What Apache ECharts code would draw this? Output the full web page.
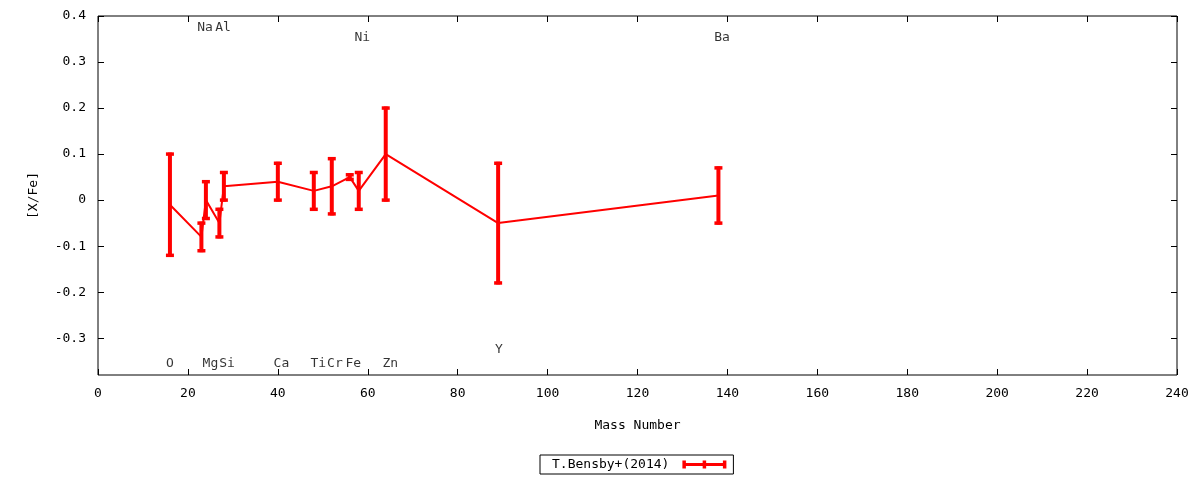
<!DOCTYPE html>
<html>
<head>
<meta charset="utf-8">
<script src="https://cdn.jsdelivr.net/npm/echarts@6/dist/echarts.min.js"></script>
<style>
html,body{margin:0;padding:0;background:#fff;}
#chart{width:1200px;height:480px;}
</style>
</head>
<body>
<div id="chart"></div>
<script>
// Data
const elements   = ['O','Na','Mg','Al','Si','Ca','Ti','Cr','Fe','Ni','Zn','Y','Ba'];
const massNumber = [16, 23, 24, 27, 28, 40, 48, 52, 56, 58, 64, 89, 138];
const abundance  = [-0.01,-0.08,0.00,-0.05,0.03,0.04,0.02,0.03,0.05,0.02,0.10,-0.05,0.01];
const errors     = [0.11, 0.03, 0.04, 0.03, 0.03, 0.04, 0.04, 0.06, 0.005, 0.04, 0.10, 0.13, 0.06];
// element name label anchors (data coordinates)
const labelX = [16, 23.8, 25, 27.8, 28.7, 40.8, 49, 52.7, 56.8, 58.8, 65, 89.2, 138.8];
const labelY = [-0.355, 0.375, -0.355, 0.375, -0.355, -0.355, -0.355, -0.355, -0.355, 0.352, -0.355, -0.325, 0.352];
const xTicks = [0,20,40,60,80,100,120,140,160,180,200,220,240];
const yTicks = [-0.3,-0.2,-0.1,0,0.1,0.2,0.3,0.4];
const seriesName = 'T.Bensby+(2014)';

const FONT = 'DejaVu Sans Mono';
const RED = '#ff0000';

const lineData = massNumber.map((m, i) => [m, abundance[i]]);
const errData = massNumber.map((m, i) => [m, abundance[i] - errors[i], abundance[i] + errors[i]]);
const labelData = elements.map((e, i) => ({ name: e, value: [labelX[i], labelY[i]] }));

const chart = echarts.init(document.getElementById('chart'), null, { renderer: 'canvas' });

const axisCommonX = {
  type: 'value', min: 0, max: 240, interval: 20,
  splitLine: { show: false },
  axisLine: { show: false, onZero: false },
  axisTick: { show: true, inside: true, length: 6, lineStyle: { color: '#000', width: 1 } }
};
const axisCommonY = {
  type: 'value', min: -0.38, max: 0.4,
  splitLine: { show: false },
  axisLine: { show: false, onZero: false },
  axisTick: { show: true, inside: true, length: 6, customValues: yTicks, lineStyle: { color: '#000', width: 1 } }
};

chart.setOption({
  animation: false,
  backgroundColor: '#fff',
  textStyle: { fontFamily: FONT },
  grid: { left: 98, right: 23, top: 16, bottom: 105, show: true, borderColor: '#000', borderWidth: 1, backgroundColor: 'transparent' },
  legend: {
    left: 540, top: 455,
    data: [seriesName],
    align: 'right',
    borderColor: '#000', borderWidth: 1,
    padding: [3, 7, 3, 12],
    itemWidth: 44, itemHeight: 8,
    icon: 'path://M0,2.5h44v3h-44z M0,0h3.5v8h-3.5z M20.25,0h3.5v8h-3.5z M40.5,0h3.5v8h-3.5z',
    itemStyle: { color: RED },
    textStyle: { fontFamily: FONT, fontSize: 13, color: '#000', padding: [2, 8, 0, 0] }
  },
  xAxis: [
    Object.assign({}, axisCommonX, {
      position: 'bottom',
      name: 'Mass Number', nameLocation: 'middle', nameGap: 44,
      nameTextStyle: { fontFamily: FONT, fontSize: 13, color: '#000' },
      axisLabel: { show: true, margin: 12, fontFamily: FONT, fontSize: 13, color: '#000' }
    }),
    Object.assign({}, axisCommonX, { position: 'top', axisLabel: { show: false } })
  ],
  yAxis: [
    Object.assign({}, axisCommonY, {
      position: 'left',
      name: '[X/Fe]', nameLocation: 'middle', nameGap: 58, nameRotate: 90,
      nameTextStyle: { fontFamily: FONT, fontSize: 13, color: '#000' },
      axisLabel: {
        show: true, margin: 12, fontFamily: FONT, fontSize: 13, color: '#000',
        customValues: yTicks,
        formatter: v => String(Math.round(v * 10) / 10)
      }
    }),
    Object.assign({}, axisCommonY, { position: 'right', axisLabel: { show: false, customValues: yTicks } })
  ],
  series: [
    {
      name: seriesName,
      type: 'line',
      data: lineData,
      xAxisIndex: 0, yAxisIndex: 0,
      symbol: 'none',
      lineStyle: { color: RED, width: 2 },
      itemStyle: { color: RED },
      z: 3
    },
    {
      name: seriesName,
      type: 'custom',
      data: errData,
      xAxisIndex: 0, yAxisIndex: 0,
      itemStyle: { color: RED },
      renderItem: function (params, api) {
        const x = api.value(0);
        const lo = api.coord([x, api.value(1)]);
        const hi = api.coord([x, api.value(2)]);
        const capW = 8;
        const style = { stroke: RED, lineWidth: 4 };
        const capStyle = { stroke: RED, lineWidth: 3.5 };
        return {
          type: 'group',
          children: [
            { type: 'line', shape: { x1: lo[0], y1: lo[1] + 1.5, x2: hi[0], y2: hi[1] - 1.5 }, style: style },
            { type: 'line', shape: { x1: lo[0] - capW / 2, y1: lo[1], x2: lo[0] + capW / 2, y2: lo[1] }, style: capStyle },
            { type: 'line', shape: { x1: hi[0] - capW / 2, y1: hi[1], x2: hi[0] + capW / 2, y2: hi[1] }, style: capStyle }
          ]
        };
      },
      z: 4
    },
    {
      name: 'labels',
      type: 'scatter',
      data: labelData,
      xAxisIndex: 0, yAxisIndex: 0,
      symbolSize: 0,
      silent: true,
      label: {
        show: true, position: 'inside', formatter: p => p.name,
        fontFamily: FONT, fontSize: 13, color: '#000'
      },
      z: 5
    }
  ]
});
</script>
</body>
</html>
